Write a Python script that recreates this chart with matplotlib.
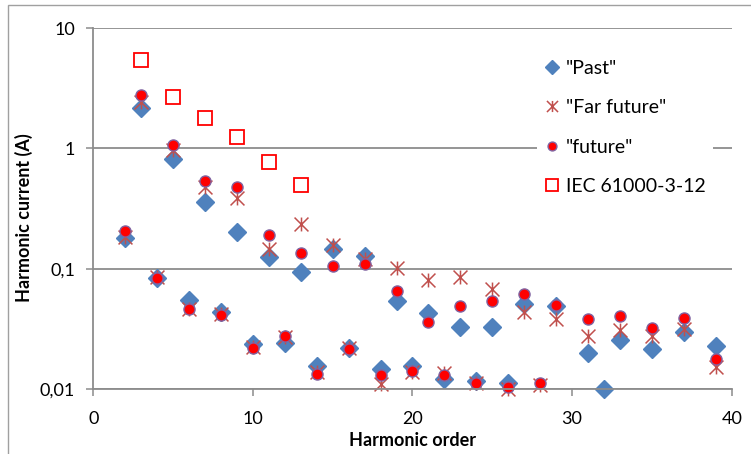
import numpy as np
import matplotlib
matplotlib.use("Agg")
import matplotlib.pyplot as plt
from matplotlib.path import Path
from matplotlib.patches import Rectangle
from matplotlib.ticker import FixedLocator, FixedFormatter

plt.rcParams['font.family'] = ['Lato', 'DejaVu Sans']

# ---- data
harmonics = [2, 3, 4, 5, 6, 7, 8, 9, 10, 11, 12, 13, 14, 15, 16, 17, 18, 19, 20,
             21, 22, 23, 24, 25, 26, 27, 28, 29, 31, 32, 33, 35, 37, 39]
past = [0.18, 2.16, 0.084, 0.81, 0.055, 0.36, 0.044, 0.20, 0.0237, 0.124, 0.024, 0.094,
        0.0154, 0.146, 0.022, 0.128, 0.0147, 0.0534, 0.0156, 0.0428, 0.0122, 0.0325,
        0.0117, 0.0325, 0.0113, 0.0508, np.nan, 0.0485, 0.0201, 0.0100, 0.0255, 0.0215,
        0.0295, 0.0229]
far_future = [0.185, 2.45, 0.085, 0.97, 0.046, 0.48, 0.042, 0.39, 0.0225, 0.146, 0.027,
              0.235, 0.0138, 0.157, 0.022, 0.12, 0.011, 0.101, 0.0138, 0.080, 0.0135,
              0.0845, 0.0112, 0.0677, 0.0100, 0.0433, 0.0108, 0.0381, 0.0277, np.nan,
              0.0311, 0.0277, 0.0315, 0.0151]
future = [0.204, 2.78, 0.083, 1.06, 0.046, 0.537, 0.041, 0.48, 0.0221, 0.19, 0.0277,
          0.135, 0.0133, 0.106, 0.0215, 0.109, 0.0131, 0.0655, 0.0142, 0.0357, 0.0131,
          0.0489, 0.0112, 0.0534, 0.0103, 0.0615, 0.0112, 0.0501, 0.0381, np.nan,
          0.0406, 0.0319, 0.0386, 0.0178]
iec_harmonics = [3, 5, 7, 9, 11, 13]
iec_limit = [5.43, 2.69, 1.80, 1.25, 0.775, 0.50]

y_ticks = [0.01, 0.1, 1, 10]
y_tick_labels = ['0,01', '0,1', '1', '10']
x_ticks = [0, 10, 20, 30, 40]

# ---- excel-like "star" marker: X with a vertical bar
star = Path([(0, -1), (0, 1), (-1, -1), (1, 1), (-1, 1), (1, -1)],
            [Path.MOVETO, Path.LINETO, Path.MOVETO, Path.LINETO, Path.MOVETO, Path.LINETO])

fig = plt.figure(figsize=(7.51, 4.54), dpi=100)
ax = fig.add_axes([0.1242, 0.1432, 0.8501, 0.7951])

ax.plot(harmonics, past, linestyle='none', marker='D', ms=9, mfc='#4F81BD', mec='#4F81BD',
        label='"Past"', clip_on=False)
ax.plot(harmonics, far_future, linestyle='none', marker=star, ms=10, mfc='none',
        mec='#C0504D', mew=1.1, label='"Far future"', clip_on=False)
ax.plot(harmonics, future, linestyle='none', marker='o', ms=8, mfc='#FF0000', mec='#8064A2',
        mew=1.0, label='"future"', clip_on=False)
ax.plot(iec_harmonics, iec_limit, linestyle='none', marker='s', ms=10.5, mfc='white',
        mec='#FF0000', mew=1.3, label='IEC 61000-3-12', clip_on=False)

ax.set_yscale('log')
ax.set_ylim(0.01, 10)
ax.set_xlim(0, 40)
ax.yaxis.set_major_locator(FixedLocator(y_ticks))
ax.yaxis.set_major_formatter(FixedFormatter(y_tick_labels))
ax.yaxis.set_minor_locator(FixedLocator([]))
ax.xaxis.set_major_locator(FixedLocator(x_ticks))

grey = '#8C8C8C'
ax.grid(axis='y', color=grey, linewidth=1.3)
ax.set_axisbelow(True)
for side in ['top', 'right']:
    ax.spines[side].set_visible(False)
for side in ['left', 'bottom']:
    ax.spines[side].set_color(grey)
    ax.spines[side].set_linewidth(1.3)
ax.tick_params(axis='both', direction='out', length=5, width=1.1, color=grey,
               labelsize=13, labelcolor='black')
ax.tick_params(axis='x', pad=11)
ax.tick_params(axis='y', pad=8)

ax.set_xlabel('Harmonic order', fontsize=13, fontweight='bold')
ax.set_ylabel('Harmonic current (A)', fontsize=13, fontweight='bold')
ax.xaxis.set_label_coords(0.5, -0.118)
ax.yaxis.set_label_coords(-0.094, 0.475)

leg = ax.legend(loc='upper left', bbox_to_anchor=(527 / 751, 1 - 42 / 454),
                bbox_transform=fig.transFigure, frameon=True, fancybox=False,
                fontsize=14, labelspacing=1.16, handletextpad=0.3, handlelength=0.8,
                borderpad=0.4, markerscale=0.8)
leg.get_frame().set_facecolor('white')
leg.get_frame().set_edgecolor('none')
leg.get_frame().set_alpha(1)

# ---- chart border
fig.patches.append(Rectangle((8 / 751, -0.1), 1.1, 1.1 - 5 / 454, transform=fig.transFigure,
                             fill=False, edgecolor='#A0A0A0', linewidth=1.0))

fig.savefig('out.png', dpi=100)
